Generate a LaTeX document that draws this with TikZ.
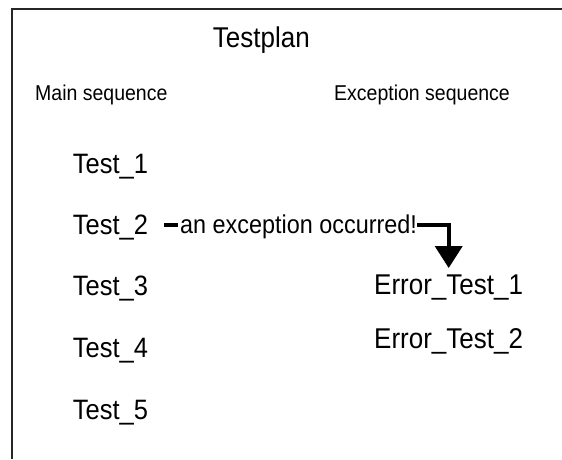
\documentclass[tikz,border=0pt]{standalone}
\usepackage{fontspec}
\setmainfont{Liberation Sans}
\usetikzlibrary{arrows.meta}
\newcommand\vtx[1]{\scalebox{1}[1.1]{#1}}
\tikzset{
  big/.style={inner sep=0pt, anchor=base west, font=\fontsize{25.5}{28}\selectfont},
  err/.style={inner sep=0pt, anchor=base west, font=\fontsize{26}{28}\selectfont},
  head/.style={inner sep=0pt, anchor=base west, font=\fontsize{19.5}{22}\selectfont},
  lbl/.style={inner sep=0pt, anchor=base west, font=\fontsize{23.4}{26}\selectfont},
  frame/.style={line width=2pt, draw=black!85},
  conn/.style={line width=4pt}
}
\begin{document}
\begin{tikzpicture}[x=1pt,y=-1pt]
\useasboundingbox (0,0) rectangle (562,459);
\draw[frame] (11.5,459) -- (11.5,9.3) -- (562,9.3);
\node[inner sep=0pt, anchor=base west, font=\fontsize{26}{28}\selectfont] (title) at (212.7,47) {\vtx{Testplan}};
\node[head] (main) at (35,100) {\vtx{Main sequence}};
\node[head] (excseq) at (334,100) {\vtx{Exception sequence}};
\node[big] (t1) at (72.7,173.5) {\vtx{Test\_1}};
\node[big] (t2) at (72.7,234.3) {\vtx{Test\_2}};
\node[big] (t3) at (72.7,295) {\vtx{Test\_3}};
\node[big] (t4) at (72.7,357) {\vtx{Test\_4}};
\node[big] (t5) at (72.7,419) {\vtx{Test\_5}};
\node[err] (e1) at (374,294.3) {\vtx{Error\_Test\_1}};
\node[err] (e2) at (374,348.3) {\vtx{Error\_Test\_2}};
\node[lbl] (exc) at (180,233.5) {\vtx{an exception occurred!}};
\coordinate (corner) at (448.7,225);
\draw[conn, shorten <=16pt, shorten >=1.7pt] (t2.east |- corner) -- (exc.west |- corner);
\draw[conn, shorten >=6.4pt, -{Triangle[width=27pt,length=22pt]}] (exc.east |- corner) -- (corner) -- (corner |- e1.north);
\end{tikzpicture}
\end{document}
